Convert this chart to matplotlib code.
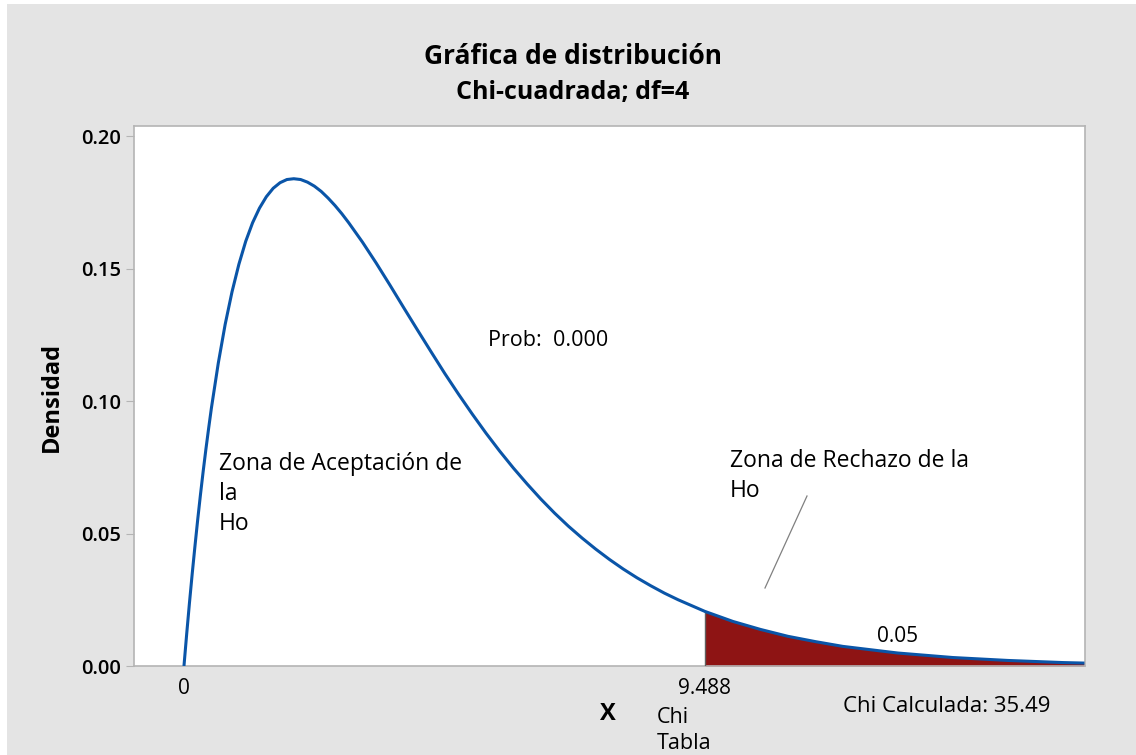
import numpy as np
import matplotlib
matplotlib.use("Agg")
import matplotlib.pyplot as plt
from matplotlib.patches import Rectangle

# ---- data (Chi-square, df=4) ----
x_vals = [0, 0.05, 0.1, 0.15, 0.2, 0.25, 0.3, 0.35, 0.4, 0.45, 0.5, 0.625,
          0.75, 0.875, 1.0, 1.125, 1.25, 1.375, 1.5, 1.625, 1.75, 1.875, 2.0,
          2.125, 2.25, 2.375, 2.5, 2.625, 2.75, 2.875, 3.0, 3.25, 3.5, 3.75,
          4.0, 4.25, 4.5, 4.75, 5.0, 5.25, 5.5, 5.75, 6.0, 6.25, 6.5, 6.75,
          7.0, 7.25, 7.5, 7.75, 8.0, 8.25, 8.5, 8.75, 9.0, 9.488, 10.0, 10.5,
          11.0, 11.5, 12.0, 13.0, 14.0, 15.0, 16.0, 16.4]
density = [0.0, 0.0122, 0.0238, 0.0348, 0.0452, 0.0552, 0.0646, 0.0735,
           0.0819, 0.0898, 0.0974, 0.1143, 0.1289, 0.1412, 0.1516, 0.1603,
           0.1673, 0.1728, 0.1771, 0.1803, 0.1824, 0.1836, 0.1839, 0.1836,
           0.1826, 0.1811, 0.1791, 0.1766, 0.1738, 0.1707, 0.1673, 0.1600,
           0.1521, 0.1438, 0.1353, 0.1269, 0.1186, 0.1104, 0.1026, 0.0951,
           0.0879, 0.0811, 0.0747, 0.0687, 0.0630, 0.0577, 0.0528, 0.0483,
           0.0441, 0.0402, 0.0366, 0.0333, 0.0303, 0.0275, 0.0250, 0.0206,
           0.0168, 0.0138, 0.0112, 0.0092, 0.0074, 0.0049, 0.0032, 0.0021,
           0.0013, 0.0011]
chi_tabla = 9.488
alpha_label = "0.05"
y_ticks = [0.00, 0.05, 0.10, 0.15, 0.20]
y_tick_labels = ["0.00", "0.05", "0.10", "0.15", "0.20"]
x_ticks = [0, chi_tabla]
x_tick_labels = ["0", "9.488"]

FONT = ["Open Sans", "Noto Sans", "DejaVu Sans"]
plt.rcParams["font.family"] = FONT

W, H = 1136, 755
fig = plt.figure(figsize=(W / 100, H / 100), dpi=100, facecolor="white")
fig.patches.append(Rectangle((7 / W, 0), 1 - 7 / W, 1 - 4 / H,
                             transform=fig.transFigure, facecolor="#e4e4e4",
                             edgecolor="none", zorder=-5))

ax = fig.add_axes([134 / W, 1 - 666 / H, (1085 - 134) / W, (666 - 126) / H])
ax.set_facecolor("white")
ax.set_zorder(2)

x = np.array(x_vals)
d = np.array(density)
mask = x >= chi_tabla
ax.fill_between(x[mask], 0, d[mask], color="#8e1414", linewidth=0, zorder=2)
ax.plot([chi_tabla, chi_tabla], [0, d[x == chi_tabla][0]], color="#606060",
        linewidth=1, zorder=3)
ax.plot(x, d, color="#0a55a8", linewidth=2.2, zorder=4,
        solid_joinstyle="round", solid_capstyle="butt")

ax.set_xlim(-0.91, 16.41)
ax.set_ylim(0, 0.2038)

for s in ax.spines.values():
    s.set_color("#b4b4b4")
    s.set_linewidth(1.2)

ax.set_yticks(y_ticks)
ax.set_yticklabels(y_tick_labels, fontsize=14.5, fontweight="semibold")
ax.tick_params(axis="y", length=6, color="#b4b4b4", pad=3)
ax.set_xticks(x_ticks)
ax.set_xticklabels(x_tick_labels, fontsize=15)
ax.tick_params(axis="x", length=0, pad=9)

fig.text(573 / W, 1 - 57 / H, "Gráfica de distribución", ha="center",
         va="center", fontsize=19, fontweight="bold", zorder=5)
fig.text(573 / W, 1 - 92 / H, "Chi-cuadrada; df=4", ha="center",
         va="center", fontsize=18, fontweight="bold", zorder=5)
fig.text(52 / W, 1 - 397 / H, "Densidad", rotation=90, ha="center",
         va="center", fontsize=17, fontweight="bold", zorder=5)
fig.text(608 / W, 1 - 714 / H, "X", ha="center", va="center",
         fontsize=17, fontweight="bold", zorder=5)

fig.text(488 / W, 1 - 341 / H, "Prob:  0.000", ha="left", va="center",
         fontsize=15.5, zorder=5)
fig.text(219 / W, 1 - 452 / H, "Zona de Aceptación de\nla\nHo", ha="left",
         va="top", fontsize=16.5, linespacing=1.33, zorder=5)
fig.text(730 / W, 1 - 449 / H, "Zona de Rechazo de la\nHo", ha="left",
         va="top", fontsize=16.5, linespacing=1.33, zorder=5)
fig.add_artist(plt.Line2D([807 / W, 765 / W], [1 - 496 / H, 1 - 588 / H],
                          transform=fig.transFigure, color="#808080",
                          linewidth=0.9, zorder=5))
fig.text(898 / W, 1 - 637 / H, alpha_label, ha="center", va="center",
         fontsize=15, zorder=5)
fig.text(657 / W, 1 - 707 / H, "Chi\nTabla", ha="left", va="top",
         fontsize=15.5, linespacing=1.3, zorder=5)
fig.text(843 / W, 1 - 706 / H, "Chi Calculada: 35.49", ha="left",
         va="center", fontsize=16, zorder=5)

fig.savefig("out.png", dpi=100, facecolor=fig.get_facecolor())
